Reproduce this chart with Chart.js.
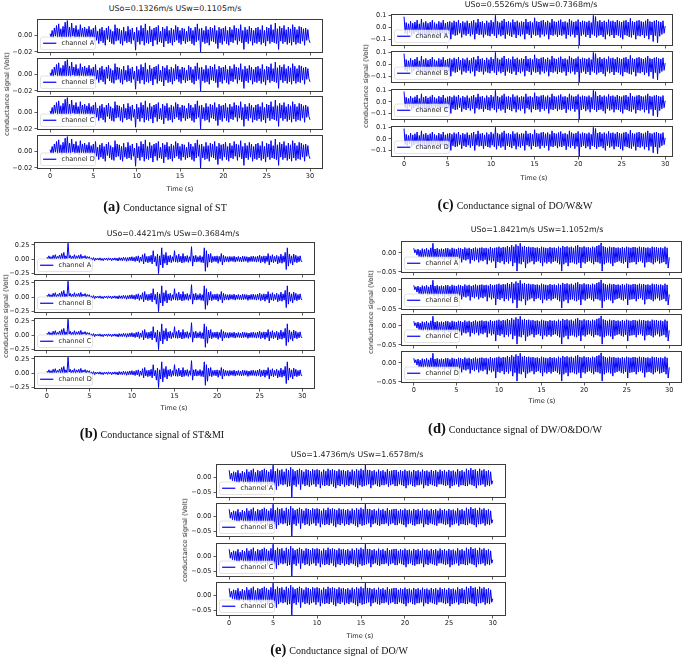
<!DOCTYPE html>
<html>
<head>
<meta charset="utf-8">
<script src="https://cdn.jsdelivr.net/npm/chart.js@4.4.0/dist/chart.umd.min.js"></script>
<style>
html, body { margin: 0; padding: 0; background: #fff; overflow: hidden; }
#page { position: relative; width: 685px; height: 658px; overflow: hidden; }
#page canvas { position: absolute; }
.lbl { position: absolute; font-family: "DejaVu Sans"; font-size: 6.6px; color: #222; white-space: nowrap; transform: translate(-50%, -50%); }
.title { font-size: 7.9px; }
.ylab { transform: translate(-50%, -50%) rotate(-90deg); }
.cap { position: absolute; font-family: "Liberation Serif"; font-size: 10px; color: #111; white-space: nowrap; transform: translate(-50%, -50%); }
.cap b { font-size: 14.5px; margin-right: 3px; }
</style>
</head>
<body>
<div id="page"></div>
<script>
// sample period of the traces below (s); values are in mV
const DT = 0.125;
const channels = ['A', 'B', 'C', 'D'];
const timeTicks = [0, 5, 10, 15, 20, 25, 30];

// the four channels look the same in every panel, so one trace per panel
// one row = 2 s
// (a) ST
const signalST = [
    2, -2, 6, -3, 9, -1, 12, -3, 14, -2, 8, -4, 11, -2, 16, -3,
    18, -2, 10, -4, 15, -1, 9, -3, 12, -2, 7, -4, 13, -2, 9, -3,
    10, -3, 8, -2, 11, -4, 7, -3, 9, -8, 12, -6, 5, -10, 8, -7,
    10, -9, 6, -12, 9, -5, 11, -8, 7, -10, 5, -11, 13, -7, 9, -6,
    8, -10, 6, -12, 10, -7, 5, -9, 11, -8, 7, -10, 9, -6, 4, -18,
    10, -8, 6, -11, 12, -7, 9, -12, 14, -9, 6, -10, 11, -8, 7, -13,
    9, -6, 10, -11, 12, -8, 5, -9, 10, -14, 8, -7, 11, -10, 6, -9,
    9, -12, 7, -8, 12, -6, 10, -9, 6, -11, 9, -7, 8, -10, 5, -8,
    11, -7, 9, -10, 6, -12, 10, -8, 14, -6, 8, -20, 9, -8, 6, -10,
    11, -9, 7, -12, 10, -7, 9, -8, 12, -10, 6, -16, 10, -9, 8, -11,
    9, -7, 11, -10, 6, -12, 10, -8, 7, -9, 12, -6, 9, -11, 8, -7,
    13, -9, 6, -17, 10, -8, 7, -10, 11, -7, 9, -12, 6, -9, 9, -10,
    10, -8, 7, -11, 12, -9, 6, -13, 10, -7, 9, -10, 13, -8, 7, -9,
    15, -10, 8, -17, 11, -7, 9, -10, 12, -8, 7, -11, 10, -9, 8, -12,
    13, -8, 10, -11, 7, -9, 11, -10, 10, -7, 8, -12, 9, -6, 7, -5,
    -9
];
// (b) ST&MI
const signalSTMI = [
    40, 10, 60, 5, 45, 0, 70, 10, 80, 5, 50, 15, 75, 0, 100, 10,
    120, 5, 60, 10, 280, 20, 70, 5, 55, 10, 80, 0, 60, 15, 70, 5,
    85, 10, 55, 20, 65, 5, 50, 15, 45, -20, 25, -15, 30, -25, 20, -10,
    20, -15, 25, -20, 15, -25, 20, -10, 20, -20, 25, -15, 20, -25, 20, -15,
    25, -20, 20, -30, 30, -20, 25, -25, 35, -20, 30, -35, 30, -25, 40, -25,
    45, -30, 35, -40, 50, -30, 60, -55, 40, -35, 80, -80, 100, -45, 50, -60,
    55, -50, 70, -80, 150, -45, 50, -120, 90, -250, 60, -100, 200, -150, 80, -70,
    120, -100, 60, -50, 70, -60, 45, -40, 150, -50, 65, -55, 90, -45, 55, -65,
    100, -55, 55, -40, 65, -55, 45, -35, 220, -120, 60, -45, 70, -50, 45, -40,
    65, -55, 45, -60, 200, -210, 150, -140, 90, -50, 100, -60, 50, -40, 55, -45,
    60, -70, 50, -40, 100, -100, 70, -50, 50, -40, 45, -50, 50, -35, 45, -40,
    55, -50, 40, -35, 50, -40, 40, -45, 55, -40, 50, -35, 45, -55, 40, -40,
    50, -40, 55, -40, 45, -50, 55, -40, 70, -60, 50, -45, 60, -70, 55, -40,
    100, -100, 60, -50, 80, -60, 50, -40, 70, -80, 50, -60, 90, -70, 60, -50,
    120, -180, 200, -120, 90, -70, 60, -100, 90, -50, 70, -60, 50, -45, 60, -35,
    -40
];
// (c) DO/W&W
const signalDOWW = [
    90, -50, 40, -60, 30, -45, 50, -70, 35, -55, 45, -40, 60, -65, 30, -50,
    70, -80, 40, -55, 50, -60, 35, -70, 45, -50, 60, -90, 40, -55, 30, -60,
    50, -70, 40, -50, 60, -60, 35, -80, 45, -55, 50, -100, 40, -60, 55, -70,
    45, -65, 60, -50, 35, -85, 50, -60, 40, -70, 55, -55, 35, -75, 50, -60,
    60, -100, 40, -55, 70, -65, 45, -60, 50, -85, 35, -60, 55, -70, 40, -75,
    60, -55, 45, -70, 100, -90, 50, -60, 40, -75, 55, -65, 70, -95, 45, -60,
    50, -70, 40, -80, 65, -60, 45, -90, 55, -65, 40, -75, 50, -60, 45, -100,
    70, -55, 45, -65, 50, -90, 40, -60, 80, -70, 50, -65, 45, -85, 55, -60,
    60, -75, 45, -60, 55, -100, 40, -65, 70, -70, 50, -60, 45, -80, 55, -65,
    65, -70, 45, -60, 50, -95, 40, -65, 70, -75, 55, -60, 45, -85, 50, -65,
    65, -150, 45, -70, 55, -60, 50, -80, 45, -65, 55, -90, 40, -60, 100, -70,
    90, -85, 50, -70, 60, -65, 45, -80, 55, -100, 45, -60, 65, -75, 50, -65,
    55, -90, 45, -65, 60, -70, 50, -85, 45, -100, 55, -65, 60, -70, 45, -80,
    75, -85, 50, -65, 45, -100, 55, -70, 60, -75, 50, -65, 45, -90, 55, -70,
    70, -100, 50, -65, 45, -120, 55, -70, 60, -130, 50, -75, 45, -60, 55, -50,
    10
];
// (d) DW/O&DO/W
const signalDWO = [
    12, 0, 8, -6, 10, -10, 7, -12, 11, -14, 9, -10, 12, -15, 8, -13,
    13, -12, 25, -16, 10, -14, 12, -18, 9, -13, 11, -16, 10, -20, 12, -14,
    12, -17, 9, -20, 13, -15, 11, -22, 10, -18, 13, -16, 12, -25, 10, -18,
    14, -20, 11, -17, 13, -28, 10, -19, 12, -22, 14, -18, 11, -25, 13, -20,
    14, -22, 12, -18, 13, -30, 11, -20, 15, -25, 12, -22, 13, -40, 14, -24,
    16, -26, 13, -22, 15, -30, 14, -24, 18, -28, 15, -22, 20, -35, 16, -26,
    22, -48, 18, -28, 25, -30, 16, -24, 18, -40, 15, -28, 16, -25, 14, -22,
    15, -30, 13, -24, 14, -22, 12, -26, 16, -35, 14, -25, 13, -28, 12, -24,
    15, -28, 13, -24, 14, -22, 12, -26, 16, -30, 13, -48, 18, -30, 15, -26,
    17, -35, 14, -26, 16, -25, 13, -28, 18, -30, 20, -26, 15, -40, 14, -25,
    17, -28, 14, -24, 15, -22, 13, -26, 16, -30, 14, -24, 18, -25, 20, -28,
    26, -48, 17, -30, 15, -26, 13, -25, 16, -28, 14, -35, 15, -26, 13, -24,
    14, -22, 12, -26, 15, -28, 13, -24, 16, -40, 14, -26, 13, -25, 15, -24,
    15, -30, 13, -24, 16, -22, 14, -26, 15, -38, 13, -25, 14, -24, 12, -26,
    16, -30, 14, -25, 15, -22, 13, -28, 14, -26, 12, -24, 16, -30, 13, -40,
    -12
];
// (e) DO/W
const signalDOW = [
    25, -5, 15, -10, 20, -12, 18, -15, 25, -18, 15, -12, 22, -20, 18, -15,
    28, -18, 20, -22, 25, -15, 30, -20, 18, -22, 25, -18, 22, -25, 26, -20,
    30, -20, 25, -30, 20, -22, 28, -25, 42, -25, 22, -40, 30, -28, 25, -22,
    28, -25, 20, -22, 30, -30, 25, -28, 35, -65, 28, -25, 22, -30, 26, -22,
    30, -40, 25, -22, 20, -28, 28, -25, 26, -30, 22, -25, 28, -22, 25, -30,
    28, -22, 25, -35, 20, -25, 27, -28, 22, -25, 30, -28, 25, -22, 28, -30,
    25, -35, 22, -25, 28, -28, 24, -22, 26, -30, 22, -25, 25, -28, 20, -22,
    27, -25, 22, -30, 28, -35, 24, -25, 30, -30, 25, -28, 42, -25, 26, -22,
    26, -35, 22, -25, 25, -22, 20, -28, 27, -30, 22, -25, 25, -25, 20, -22,
    28, -30, 22, -25, 24, -22, 26, -28, 26, -28, 20, -22, 25, -25, 22, -28,
    27, -35, 22, -25, 24, -22, 20, -28, 26, -30, 22, -25, 25, -25, 20, -22,
    27, -35, 22, -25, 24, -28, 20, -22, 26, -25, 22, -28, 25, -30, 20, -22,
    27, -22, 22, -25, 25, -28, 20, -25, 26, -35, 22, -28, 24, -25, 20, -22,
    28, -30, 22, -25, 25, -25, 20, -28, 30, -28, 25, -22, 32, -25, 26, -28,
    28, -35, 22, -25, 30, -25, 24, -22, 28, -30, 22, -25, 25, -28, 20, -22,
    -10
];

// y tick values (V)
const ticksST = [-0.02, 0];
const ticksSTMI = [-0.25, 0, 0.25];
const ticksDOWW = [-0.1, 0, 0.1];
const ticksDWO = [-0.05, 0];
const ticksDOW = [-0.05, 0];

// placement of each panel on the page
const panels = [
    { tag: 'a', signal: signalST, yTicks: ticksST, dec: 2, yMin: -0.0214, yMax: 0.0199,
      title: 'USo=0.1326m/s USw=0.1105m/s', caption: 'Conductance signal of ST',
      x0: 50, x30: 310, xMax: 31.5, top: 19, pitch: 38.5, h: 34,
      titleAt: [175, 8], ylabAt: [7, 94], timeAt: [180, 189], capAt: [165, 206] },
    { tag: 'b', signal: signalSTMI, yTicks: ticksSTMI, dec: 2, yMin: -0.275, yMax: 0.302,
      title: 'USo=0.4421m/s USw=0.3684m/s', caption: 'Conductance signal of ST&MI',
      x0: 47, x30: 302, xMax: 31.5, top: 242, pitch: 38, h: 33,
      titleAt: [173, 233], ylabAt: [6, 316], timeAt: [174, 408], capAt: [152, 433] },
    { tag: 'c', signal: signalDOWW, yTicks: ticksDOWW, dec: 1, yMin: -0.157, yMax: 0.112,
      title: 'USo=0.5526m/s USw=0.7368m/s', caption: 'Conductance signal of DO/W&W',
      x0: 404, x30: 665, xMax: 30.9, top: 14, pitch: 37.3, h: 31.5,
      titleAt: [531, 4], ylabAt: [366, 86], timeAt: [534, 178], capAt: [515, 204] },
    { tag: 'd', signal: signalDWO, yTicks: ticksDWO, dec: 2, yMin: -0.053, yMax: 0.031,
      title: 'USo=1.8421m/s USw=1.1052m/s', caption: 'Conductance signal of DW/O&DO/W',
      x0: 414, x30: 669, xMax: 31.5, top: 241, pitch: 36.7, h: 32,
      titleAt: [537, 229], ylabAt: [371, 312], timeAt: [542, 401], capAt: [515, 428] },
    { tag: 'e', signal: signalDOW, yTicks: ticksDOW, dec: 2, yMin: -0.068, yMax: 0.046,
      title: 'USo=1.4736m/s USw=1.6578m/s', caption: 'Conductance signal of DO/W',
      x0: 229, x30: 493, xMax: 31.5, top: 464, pitch: 39.3, h: 34,
      titleAt: [357, 454], ylabAt: [185, 540], timeAt: [360, 636], capAt: [339, 649] }
];

const X_MIN = -1.5;
const LINE_BLUE = 'rgb(0, 0, 245)';
const FONT = { family: 'DejaVu Sans', size: 6.6 };
const page = document.getElementById('page');

function addText(cls, text, at) {
    const el = document.createElement('div');
    el.className = cls;
    el.textContent = text;
    el.style.left = at[0] + 'px';
    el.style.top = at[1] + 'px';
    page.appendChild(el);
    return el;
}

// box round the axes and the "channel X" legend in its lower left corner
const framePlugin = {
    id: 'frame',
    afterDatasetsDraw(chart, args, opts) {
        const ctx = chart.ctx;
        const a = chart.chartArea;
        ctx.save();
        ctx.strokeStyle = '#3c3c3c';
        ctx.lineWidth = 1;
        ctx.strokeRect(Math.round(a.left) + 0.5, Math.round(a.top) + 0.5,
            Math.round(a.right - a.left) - 1, Math.round(a.bottom - a.top) - 1);

        const lx = a.left + 3.5, lh = 12.5, lw = 55;
        const ly = a.bottom - 3.5 - lh;
        ctx.beginPath();
        if (ctx.roundRect) ctx.roundRect(lx, ly, lw, lh, 2); else ctx.rect(lx, ly, lw, lh);
        ctx.fillStyle = 'rgba(255,255,255,0.8)';
        ctx.fill();
        ctx.strokeStyle = 'rgba(204,204,204,0.8)';
        ctx.lineWidth = 0.7;
        ctx.stroke();
        const my = ly + lh / 2;
        ctx.beginPath();
        ctx.moveTo(lx + 2.6, my);
        ctx.lineTo(lx + 15.8, my);
        ctx.strokeStyle = LINE_BLUE;
        ctx.lineWidth = 1.2;
        ctx.stroke();
        ctx.fillStyle = '#222';
        ctx.font = '6.6px "DejaVu Sans"';
        ctx.textBaseline = 'middle';
        ctx.fillText('channel ' + opts.channel, lx + 21, my + 0.3);
        ctx.restore();
    }
};

function addChart(p, k) {
    const s = (p.x30 - p.x0) / 30;
    const left = Math.round(p.x0 + X_MIN * s);
    const right = Math.round(p.x0 + p.xMax * s);
    const top = Math.round(p.top + k * p.pitch);
    const bottom = Math.round(p.top + k * p.pitch + p.h);
    const last = k === channels.length - 1;
    const PL = 32, PT = 6, PR = 6, PB = last ? 16 : 6;

    const cv = document.createElement('canvas');
    const w = right - left + PL + PR, hh = bottom - top + PT + PB;
    cv.width = w; cv.height = hh;
    cv.style.width = w + 'px'; cv.style.height = hh + 'px';
    cv.style.left = (left - PL) + 'px';
    cv.style.top = (top - PT) + 'px';
    page.appendChild(cv);

    // mV -> V
    const points = p.signal.map((v, i) => ({ x: i * DT, y: v / 1000 }));

    new Chart(cv.getContext('2d'), {
        type: 'line',
        data: {
            datasets: [{
                data: points,
                borderColor: LINE_BLUE,
                borderWidth: 1,
                pointRadius: 0,
                tension: 0,
                fill: false
            }]
        },
        options: {
            responsive: false,
            animation: false,
            devicePixelRatio: 1,
            layout: { padding: { top: PT, right: PR, left: 0, bottom: 0 } },
            plugins: {
                legend: { display: false },
                tooltip: { enabled: false },
                frame: { channel: channels[k] }
            },
            scales: {
                x: {
                    type: 'linear',
                    min: X_MIN,
                    max: p.xMax,
                    afterBuildTicks: sc => { sc.ticks = timeTicks.map(v => ({ value: v })); },
                    afterFit: sc => { sc.height = PB; },
                    border: { display: false },
                    grid: { drawOnChartArea: false, drawTicks: true, tickLength: 2.5, color: '#333', lineWidth: 0.8 },
                    ticks: { display: last, font: FONT, color: '#222', padding: 1, maxRotation: 0, autoSkip: false,
                             callback: v => String(v) }
                },
                y: {
                    min: p.yMin,
                    max: p.yMax,
                    afterBuildTicks: sc => { sc.ticks = p.yTicks.map(v => ({ value: v })); },
                    afterFit: sc => { sc.width = PL; },
                    border: { display: false },
                    grid: { drawOnChartArea: false, drawTicks: true, tickLength: 2.5, color: '#333', lineWidth: 0.8 },
                    ticks: { font: FONT, color: '#222', padding: 2, autoSkip: false,
                             callback: v => (v < 0 ? '\u2212' : '') + Math.abs(v).toFixed(p.dec) }
                }
            }
        },
        plugins: [framePlugin]
    });
}

panels.forEach(p => {
    channels.forEach((ch, k) => addChart(p, k));
    addText('lbl title', p.title, p.titleAt);
    addText('lbl ylab', 'conductance signal (Volt)', p.ylabAt);
    addText('lbl', 'Time (s)', p.timeAt);
    const cap = document.createElement('div');
    cap.className = 'cap';
    const b = document.createElement('b');
    b.textContent = '(' + p.tag + ')';
    cap.appendChild(b);
    cap.appendChild(document.createTextNode(p.caption));
    cap.style.left = p.capAt[0] + 'px';
    cap.style.top = p.capAt[1] + 'px';
    page.appendChild(cap);
});
</script>
</body>
</html>
